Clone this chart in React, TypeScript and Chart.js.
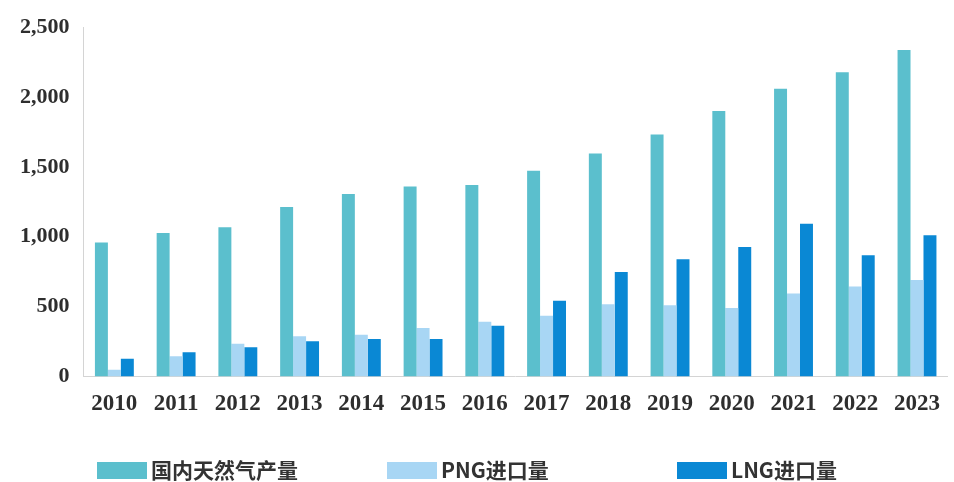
import React, { useEffect, useRef } from "react";
import { Chart, registerables } from "chart.js";

Chart.register(...registerables);

const years = ["2010", "2011", "2012", "2013", "2014", "2015", "2016", "2017", "2018", "2019", "2020", "2021", "2022", "2023"];
const domesticProduction = [958, 1027, 1067, 1212, 1305, 1359, 1371, 1473, 1596, 1732, 1900, 2059, 2178, 2337];
const pngImports = [48, 145, 233, 287, 299, 347, 391, 434, 517, 510, 489, 593, 643, 690];
const lngImports = [126, 173, 209, 251, 268, 268, 363, 541, 747, 838, 927, 1093, 868, 1011];
const seriesNames = ["国内天然气产量", "PNG进口量", "LNG进口量"];
const seriesColors = ["#5bbfcd", "#a8d6f4", "#0a88d4"];
const yTickValues = [0, 500, 1000, 1500, 2000, 2500];

const bottomLegend = {
  id: "bottomLegend",
  afterDraw(chart: any) {
    const ctx = chart.ctx;
    ctx.save();
    ctx.font = 'bold 21px "Noto Sans CJK SC", sans-serif';
    ctx.textBaseline = "middle";
    ctx.textAlign = "left";
    const startX = 97;
    const step = 290;
    const cy = 470;
    chart.data.datasets.forEach((ds: any, i: number) => {
      const x = startX + i * step;
      ctx.fillStyle = ds.backgroundColor;
      ctx.fillRect(x, cy - 8, 50, 17);
      ctx.fillStyle = "#333333";
      ctx.fillText(ds.label, x + 54, cy);
    });
    ctx.restore();
  },
};

export default function App() {
  const canvasRef = useRef<HTMLCanvasElement | null>(null);

  useEffect(() => {
    if (!canvasRef.current) return;
    const values = [domesticProduction, pngImports, lngImports];
    const chart = new Chart(canvasRef.current, {
      type: "bar",
      data: {
        labels: years,
        datasets: seriesNames.map((name, i) => ({
          label: name,
          data: values[i],
          backgroundColor: seriesColors[i],
          borderWidth: 0,
          categoryPercentage: 0.63,
          barPercentage: 1.0,
        })),
      },
      options: {
        animation: false,
        responsive: true,
        maintainAspectRatio: false,
        layout: { padding: { left: 6, right: -4, top: 23, bottom: 50 } },
        plugins: {
          legend: { display: false },
          tooltip: { enabled: false },
        },
        scales: {
          x: {
            grid: { display: false, drawTicks: false },
            border: { display: true, color: "#d4d4d4", width: 1 },
            ticks: {
              padding: 14,
              color: "#2e2e2e",
              font: { family: '"Liberation Serif", "Times New Roman", serif', size: 23, weight: "bold" },
            },
          },
          y: {
            min: 0,
            max: 2500,
            afterBuildTicks: (scale: any) => {
              scale.ticks = yTickValues.map((v) => ({ value: v }));
            },
            grid: { display: false, drawTicks: false },
            border: { display: true, color: "#d4d4d4", width: 1 },
            ticks: {
              padding: 14,
              color: "#2e2e2e",
              font: { family: '"Liberation Serif", "Times New Roman", serif', size: 22, weight: "bold" },
              callback: (v: any) => Number(v).toLocaleString("en-US"),
            },
          },
        },
      },
      plugins: [bottomLegend],
    });
    return () => chart.destroy();
  }, []);

  return (
    <div style={{ position: "fixed", left: 0, top: 0, width: 954, height: 482, background: "#ffffff" }}>
      <canvas ref={canvasRef} />
    </div>
  );
}
